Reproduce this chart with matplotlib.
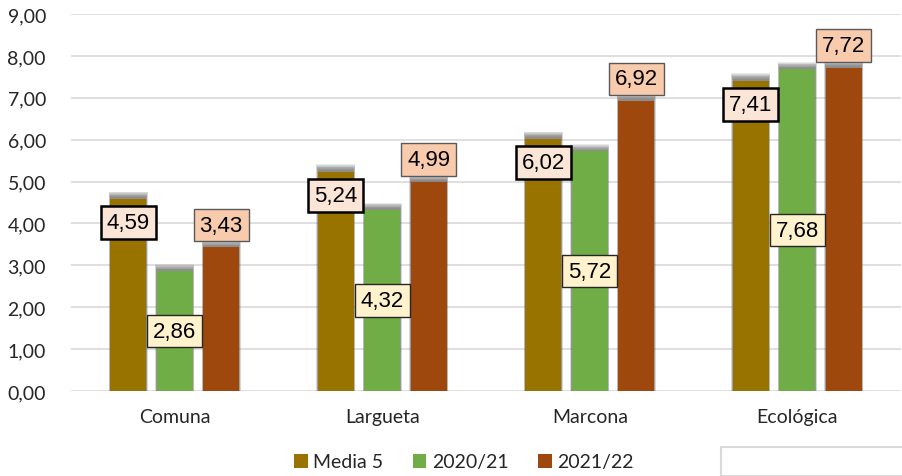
import numpy as np
import matplotlib
matplotlib.use('Agg')
import matplotlib.pyplot as plt
import matplotlib.patches as patches

categories = ['Comuna', 'Largueta', 'Marcona', 'Ecológica']
series_names = ['Media 5', '2020/21', '2021/22']
media5 = [4.59, 5.24, 6.02, 7.41]
s2020 = [2.86, 4.32, 5.72, 7.68]
s2021 = [3.43, 4.99, 6.92, 7.72]
y_ticks = [0, 1, 2, 3, 4, 5, 6, 7, 8, 9]

colors = ['#997300', '#70AD47', '#9E480E']
label_fill = ['#FBE5D6', '#FFF2CC', '#F8CBAD']
label_edge = ['#000000', '#262626', '#595959']
label_lw = [1.8, 1.0, 1.0]

W, H = 902, 477
fig = plt.figure(figsize=(W / 100, H / 100), dpi=100)
ax = fig.add_axes([71 / W, (H - 392) / H, (901 - 71) / W, (392 - 15) / H])

x = np.arange(len(categories))
width = 0.174
offset = 0.224
all_series = [media5, s2020, s2021]

for i, vals in enumerate(all_series):
    xs = x + (i - 1) * offset
    # soft blurred shadow sticking out above the bars
    for k in range(8):
        extra = 0.17 - k * 0.018
        ax.bar(xs, np.array(vals) + extra, width + 0.014 - k * 0.002,
               color='#555555', alpha=0.12, zorder=2, linewidth=0)
    ax.bar(xs, vals, width, color=colors[i], zorder=3, label=series_names[i],
           linewidth=0)

# data labels
for i, vals in enumerate(all_series):
    for j, v in enumerate(vals):
        if i == 0:
            ypos = v - 0.57
        elif i == 1:
            ypos = v / 2
        else:
            ypos = v + 0.53
        ax.text(x[j] + (i - 1) * offset, ypos, f'{v:.2f}'.replace('.', ','),
                ha='center', va='center', fontsize=16,
                family='Liberation Sans', color='#000000', zorder=5,
                bbox=dict(boxstyle='square,pad=0.26', fc=label_fill[i],
                          ec=label_edge[i], lw=label_lw[i]))

ax.set_xlim(-0.5, 3.5)
ax.set_ylim(0, 9)
ax.set_yticks(y_ticks)
ax.set_yticklabels([f'{t:.2f}'.replace('.', ',') for t in y_ticks],
                   fontsize=14, family='Lato', color='#262626')
ax.set_xticks(x)
ax.set_xticklabels(categories, fontsize=14, family='Lato', color='#262626')
ax.tick_params(length=0)
ax.tick_params(axis='y', pad=18)
ax.tick_params(axis='x', pad=12)
ax.grid(axis='y', color='#D9D9D9', lw=1.2, zorder=0)
ax.set_axisbelow(True)
for s in ax.spines.values():
    s.set_visible(False)

leg = fig.legend(loc='center', bbox_to_anchor=(464 / W, 1 - 463 / H), ncol=3,
                 frameon=False, prop={'family': 'Lato', 'size': 14},
                 handlelength=0.7, handleheight=0.7, handletextpad=0.3,
                 columnspacing=1.5)
for t in leg.get_texts():
    t.set_color('#262626')

# stray box at the bottom right
fig.patches.append(patches.Rectangle((721 / W, 0), (W - 721) / W + 0.01,
                                     (H - 448) / H, transform=fig.transFigure,
                                     fill=False, ec='#D9D9D9', lw=1.5))

fig.savefig('out.png', dpi=100)
